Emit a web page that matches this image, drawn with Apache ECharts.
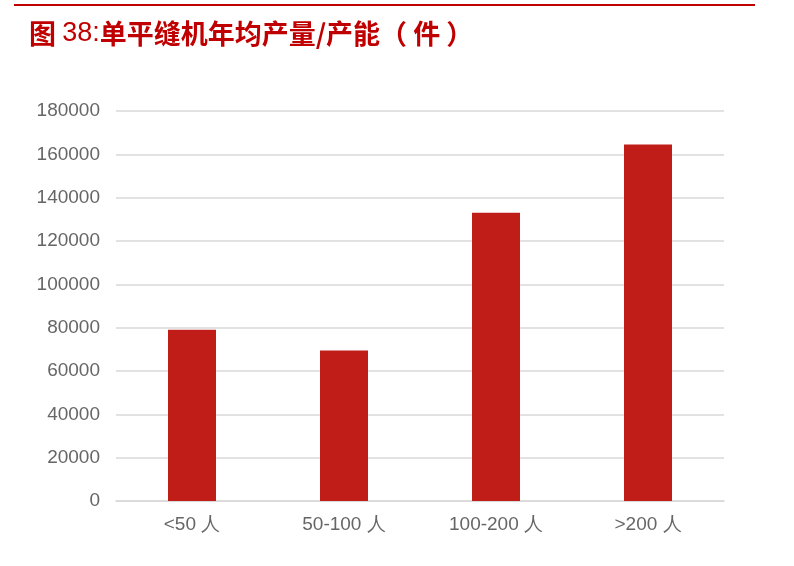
<!DOCTYPE html>
<html><head><meta charset="utf-8">
<script src="https://cdn.jsdelivr.net/npm/echarts@6/dist/echarts.min.js"></script>
<style>html,body{margin:0;padding:0;background:#fff}#c{width:794px;height:566px}</style>
</head><body><div id="c"></div>
<script>
const categories = ['<50 人', '50-100 人', '100-200 人', '>200 人'];
const values = [79000, 69500, 133000, 164500];
const yTicks = [0, 20000, 40000, 60000, 80000, 100000, 120000, 140000, 160000, 180000];
const titleParts = ['图 ', '38:', '单平缝机年均产量/产能（ 件 ）'];

const chart = echarts.init(document.getElementById('c'));
chart.setOption({
  animation: false,
  backgroundColor: '#ffffff',
  title: {
    text: '{a|' + titleParts[0] + '}{b|' + titleParts[1] + '}{a|' + titleParts[2] + '}',
    left: 24, top: 15,
    textStyle: {
      rich: {
        a: { color: '#c00000', fontSize: 27, fontWeight: 'bold', fontFamily: 'Noto Sans CJK SC' },
        b: { color: '#c00000', fontSize: 27, fontWeight: 'normal', fontFamily: 'Liberation Sans Narrow, Liberation Sans' }
      }
    }
  },
  graphic: [{ type: 'rect', shape: { x: 14, y: 4, width: 741, height: 2 }, style: { fill: '#c00000' } }],
  grid: { left: 116, right: 70, top: 111, bottom: 65 },
  xAxis: {
    type: 'category', data: categories,
    axisLine: { lineStyle: { color: '#d9d9d9', width: 1.5 } },
    axisTick: { show: false },
    axisLabel: { color: '#666666', fontSize: 19, fontFamily: 'Liberation Sans', margin: 14 }
  },
  yAxis: {
    type: 'value', min: yTicks[0], max: yTicks[yTicks.length - 1], interval: yTicks[1] - yTicks[0],
    axisLine: { show: false }, axisTick: { show: false },
    splitLine: { lineStyle: { color: '#d9d9d9', width: 1.5 } },
    axisLabel: { color: '#666666', fontSize: 19, fontFamily: 'Liberation Sans', margin: 16, formatter: v => String(v) }
  },
  series: [{
    type: 'bar', data: values, barWidth: 48,
    itemStyle: { color: '#c01c18' }
  }]
});
</script></body></html>
